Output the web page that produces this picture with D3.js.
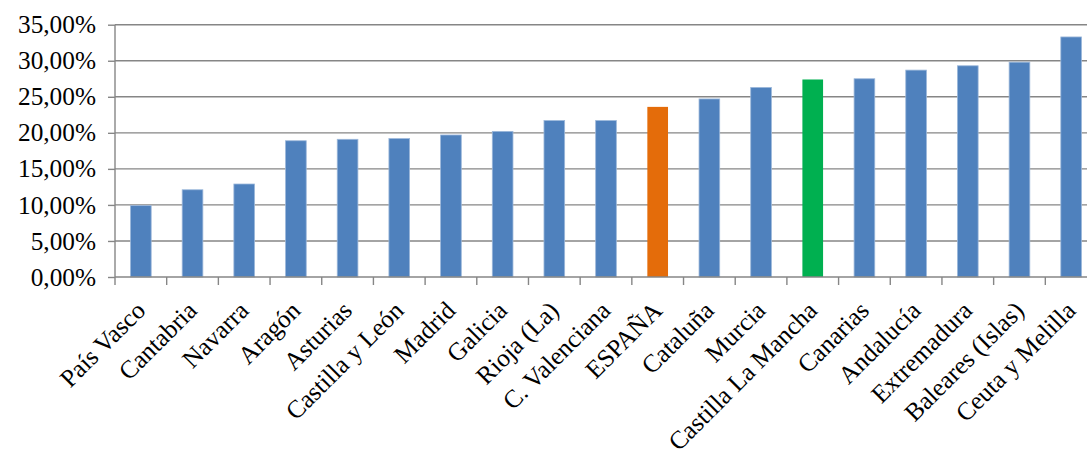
<!DOCTYPE html>
<html><head><meta charset="utf-8">
<script src="https://cdn.jsdelivr.net/npm/d3@7"></script>
<style>body{margin:0;background:#fff;} svg{display:block;} text{font-family:'Liberation Serif','Times New Roman',serif;}</style>
</head><body>
<svg id="c" width="1087" height="456"></svg>
<script>
const categories = ["País Vasco","Cantabria","Navarra","Aragón","Asturias","Castilla y León","Madrid","Galicia","Rioja (La)","C. Valenciana","ESPAÑA","Cataluña","Murcia","Castilla La Mancha","Canarias","Andalucía","Extremadura","Baleares (Islas)","Ceuta y Melilla"];
const values = [9.9,12.1,12.9,18.9,19.1,19.2,19.7,20.2,21.7,21.7,23.6,24.7,26.3,27.4,27.5,28.7,29.3,29.8,33.3];
const yTicks = [0,5,10,15,20,25,30,35];
const highlight = {"ESPAÑA":"#e46c0a","Castilla La Mancha":"#00b050"};
const baseColor = "#4f81bd";

const svg = d3.select("#c");
const pLeft = 115, pRight = 1097, pTop = 24.7, pBottom = 277;
const x = d3.scaleBand().domain(categories).range([pLeft, pRight]).paddingInner(0.6).paddingOuter(0.3);
const xt = d3.scaleBand().domain(categories).range([pLeft, pRight]);
const y = d3.scaleLinear().domain([0,35]).range([pBottom, pTop]);
const font = "'Liberation Serif','Times New Roman',serif";
const fs = 25.3;
const gridColor = "#868686";

// gridlines
svg.append("g").selectAll("line").data(yTicks.filter(d=>d>0)).join("line")
  .attr("x1", pLeft).attr("x2", pRight).attr("y1", d=>y(d)).attr("y2", d=>y(d))
  .attr("stroke", gridColor).attr("stroke-width", 1.4);

// bars
svg.append("g").selectAll("rect").data(categories).join("rect")
  .attr("x", (d)=>x(d)).attr("width", x.bandwidth())
  .attr("y", (d,i)=>y(values[i])).attr("height", (d,i)=>y(0)-y(values[i]))
  .attr("fill", d=>highlight[d]||baseColor)
  .attr("stroke", d=>highlight[d]?"none":"#9bb7da").attr("stroke-width", 0.8);

// y axis
const yAxis = d3.axisLeft(y).tickValues(yTicks).tickSize(7).tickPadding(12)
  .tickFormat(d=>d3.format(".2f")(d).replace(".",",")+"%");
const ga = svg.append("g").attr("transform",`translate(${pLeft},0)`).call(yAxis)
  .attr("font-family", null).attr("font-size", null);
ga.select(".domain").attr("stroke", gridColor).attr("stroke-width",1.4).attr("d",`M0,${pTop}V${pBottom}`);
ga.selectAll(".tick line").attr("stroke", gridColor).attr("stroke-width",1.4);
ga.selectAll(".tick text").style("font-family", font).style("font-size", fs+"px").attr("fill","#000");

// x axis
const xAxis = d3.axisBottom(xt).tickSize(0).tickFormat("");
const gx = svg.append("g").attr("transform",`translate(0,${pBottom})`).call(xAxis);
gx.select(".domain").attr("stroke", gridColor).attr("stroke-width",1.4).attr("d",`M${pLeft},0H${pRight}`);
gx.append("g").selectAll("line").data(categories.concat(["__end"])).join("line")
  .attr("x1",(d,i)=>pLeft+i*xt.step()).attr("x2",(d,i)=>pLeft+i*xt.step())
  .attr("y1",0).attr("y2",8).attr("stroke",gridColor).attr("stroke-width",1.4);

// category labels
svg.append("g").selectAll("text").data(categories).join("text")
  .attr("transform", d=>`translate(${xt(d)+xt.bandwidth()/2+6},${pBottom+35}) rotate(-45)`)
  .attr("text-anchor","end").style("font-family",font).style("font-size",fs+"px").attr("fill","#000")
  .text(d=>d);
</script>
</body></html>
